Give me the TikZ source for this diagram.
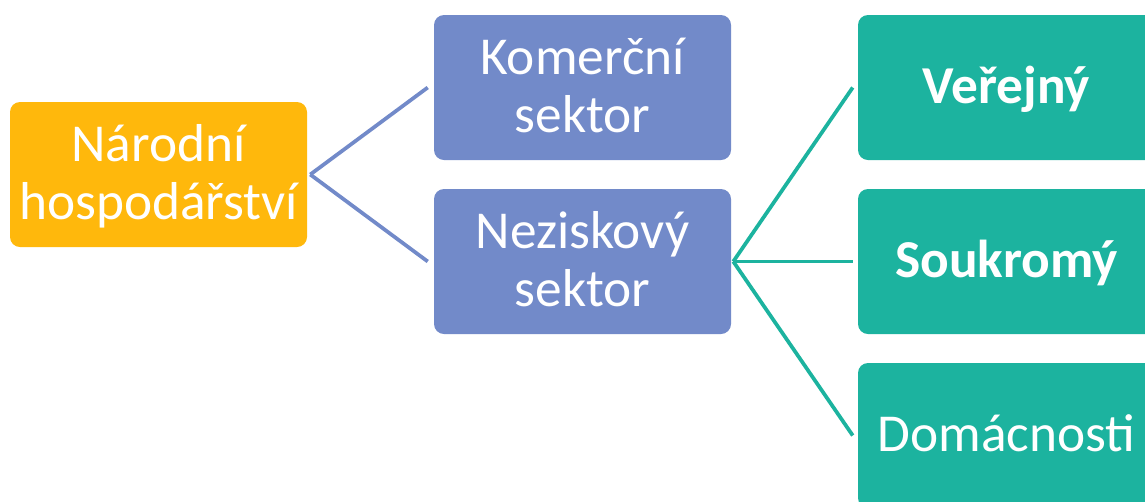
\documentclass[tikz,border=0pt]{standalone}
\usepackage{fontspec}
\setmainfont{Carlito}
\definecolor{zlata}{HTML}{FFB80C}
\definecolor{modra}{HTML}{728AC9}
\definecolor{tyrkys}{HTML}{1CB39F}
\newcommand{\radek}{\rule[-9.75pt]{0pt}{43.5pt}}
\tikzset{
  blok/.style={rectangle, rounded corners=7.5pt, minimum width=222.75pt, minimum height=108.75pt,
    text=white, align=center, font=\fontsize{40}{43.5}\selectfont, inner sep=0pt},
  spoj/.style={line width=2.8pt},
}
\begin{document}
\begin{tikzpicture}[x=0.75pt, y=-0.75pt]
    \path[use as bounding box] (0, 0) rectangle (1145, 501);
    \clip (0, 0) rectangle (1145, 501);
    \node[blok, fill=zlata] (nh) at (158.5, 174.5) {\radek Národní\\\radek hospodářství};
    \node[blok, fill=modra] (kom) at (582.5, 87.5) {\radek Komerční\\\radek sektor};
    \node[blok, fill=modra] (nez) at (582.5, 261.5) {\radek Neziskový\\\radek sektor};
    \node[blok, fill=tyrkys, font=\fontsize{40}{43.5}\selectfont\bfseries] (ver) at (1006.5, 87.5) {\radek Veřejný};
    \node[blok, fill=tyrkys, font=\fontsize{40}{43.5}\selectfont\bfseries] (souk) at (1006.5, 261.5) {\radek Soukromý};
    \node[blok, fill=tyrkys] (dom) at (1006.5, 435.5) {\radek Domácnosti};
    \draw[spoj, modra] ([xshift=2.25pt]nh.east) -- ([xshift=-4.5pt]kom.west);
    \draw[spoj, modra] ([xshift=2.25pt]nh.east) -- ([xshift=-4.5pt]nez.west);
    \draw[spoj, tyrkys] ([xshift=1.5pt]nez.east) -- ([xshift=-3.75pt]ver.west);
    \draw[spoj, tyrkys] ([xshift=1.5pt]nez.east) -- ([xshift=-3.75pt]souk.west);
    \draw[spoj, tyrkys] ([xshift=1.5pt]nez.east) -- ([xshift=-3.75pt]dom.west);
\end{tikzpicture}
\end{document}
